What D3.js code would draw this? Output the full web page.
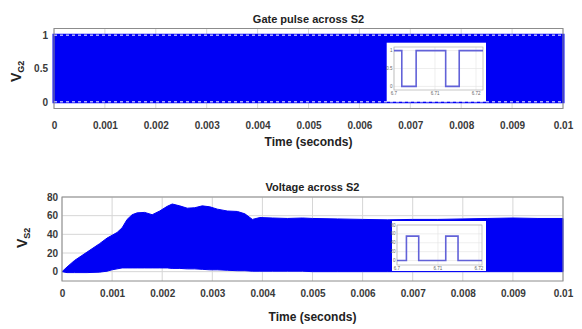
<!DOCTYPE html>
<html>
<head>
<meta charset="utf-8">
<script src="https://cdn.jsdelivr.net/npm/d3@7"></script>
<style>
  body { margin: 0; background: #fff; }
  svg text { font-family: "Liberation Sans", Arial, sans-serif; }
</style>
</head>
<body>
<div id="chart"></div>
<script>
// ---- data ----
const timeTicks = [0, 0.001, 0.002, 0.003, 0.004, 0.005, 0.006, 0.007, 0.008, 0.009, 0.01];
const gateTicks = [0, 0.5, 1];
const voltTicks = [0, 20, 40, 60, 80];

// gate pulse envelope (switching too fast to resolve, band 0..1)
const gateTime = [0, 0.01];
const gateLow = [0, 0];
const gateHigh = [1, 1];

// voltage across S2 envelope
const voltTime = [0, 0.0001, 0.00025, 0.0005, 0.00075, 0.0009, 0.001, 0.0011, 0.0012, 0.0013,
  0.0014, 0.0015, 0.00165, 0.0018, 0.00195, 0.0021, 0.0022, 0.00235, 0.0025, 0.00265,
  0.0028, 0.00295, 0.0031, 0.0033, 0.0035, 0.00365, 0.0038, 0.00395, 0.0042, 0.0045,
  0.0048, 0.005, 0.0055, 0.006, 0.0065, 0.007, 0.0075, 0.008, 0.0085, 0.009, 0.0095, 0.01];
const voltHigh = [0, 5, 12, 21, 30, 36, 39, 42, 47, 56,
  61, 63, 63.5, 61, 65, 70, 72.5, 70.5, 68, 68.5,
  70.5, 69.5, 67, 65, 64.5, 62, 56, 58, 57.5, 57,
  57.5, 57, 56.5, 56, 55.5, 56, 56, 56.5, 57, 57.5, 57, 57];
const voltLow = [0, -1, -1, -1, -0.5, 0.5, 2, 3, 4, 4,
  4, 4, 4, 4, 4, 4, 3.5, 3.5, 3, 3,
  2.5, 2, 2, 1.5, 1, 1, 0.5, 0.5, 0.5, 0.5,
  0.5, 0, 0, 0, 0, 0, 0, 0, 0, 0, 0, 0];

// zoomed insets (time in ms)
const zoomTicks = [6.7, 6.71, 6.72];
const gateZoomTime = [6.7, 6.7019, 6.7054, 6.7126, 6.7159, 6.7217];
const gateZoomLevel = [1, 0, 1, 0, 1, 1];
const voltZoomTime = [6.7, 6.7023, 6.7053, 6.7119, 6.7149, 6.72075];
const voltZoomLevel = [0, 55, 0, 55, 0, 0];

const blue = '#0000f5';
const gridColor = '#d6d6d6';
const boxColor = '#8c8c8c';
const tickColor = '#3a3a3a';

var svg = d3.select('#chart')
  .append('svg')
  .attr('width', 582)
  .attr('height', 329);

function panel(opt) {
  var x = d3.scaleLinear().domain([0, 0.01]).range([opt.left, opt.right]);
  var y = d3.scaleLinear().domain(opt.yDomain).range([opt.bottom, opt.top]);
  var g = svg.append('g');

  // grid
  g.selectAll('.vgrid').data(timeTicks).enter().append('line')
    .attr('x1', d => x(d)).attr('x2', d => x(d))
    .attr('y1', opt.top).attr('y2', opt.bottom)
    .style('stroke', gridColor);
  g.selectAll('.hgrid').data(opt.yTicks).enter().append('line')
    .attr('x1', opt.left).attr('x2', opt.right)
    .attr('y1', d => y(d)).attr('y2', d => y(d))
    .style('stroke', gridColor);

  // envelope band
  var rows = opt.time.map((t, i) => ({ t: t, lo: opt.low[i], hi: opt.high[i] }));
  var area = d3.area()
    .x(d => x(d.t))
    .y0(d => y(d.lo))
    .y1(d => y(d.hi));
  g.append('path')
    .attr('d', area(rows))
    .style('fill', blue)
    .style('stroke', blue)
    .style('stroke-width', opt.edge);

  if (opt.dashed) {
    opt.dashed.forEach(v => {
      g.append('line')
        .attr('x1', x(0)).attr('x2', x(0.01))
        .attr('y1', y(v)).attr('y2', y(v))
        .style('stroke', '#fff')
        .style('stroke-width', 1)
        .style('stroke-dasharray', '3,3');
    });
  }

  // box
  g.append('rect')
    .attr('x', opt.left).attr('y', opt.top)
    .attr('width', opt.right - opt.left).attr('height', opt.bottom - opt.top)
    .style('fill', 'none').style('stroke', boxColor);

  // axes
  var xAxis = g.append('g')
    .attr('transform', `translate(0,${opt.bottom})`)
    .call(d3.axisBottom(x).tickValues(timeTicks).tickSize(0).tickPadding(opt.xPad)
      .tickFormat(d => String(+d.toFixed(3))));
  var yAxis = g.append('g')
    .attr('transform', `translate(${opt.left},0)`)
    .call(d3.axisLeft(y).tickValues(opt.yTicks).tickSize(0).tickPadding(opt.yPad)
      .tickFormat(d => String(d)));
  [xAxis, yAxis].forEach(a => {
    a.select('.domain').remove();
    a.selectAll('text')
      .style('font-size', '10px')
      .style('font-weight', 'bold')
      .style('fill', tickColor);
  });

  // titles
  var cx = (opt.left + opt.right) / 2;
  g.append('text')
    .attr('x', cx).attr('y', opt.top - 6)
    .attr('text-anchor', 'middle')
    .style('font-size', '11px').style('font-weight', 'bold').style('fill', '#222')
    .text(opt.title);
  g.append('text')
    .attr('x', cx).attr('y', opt.xLabelY)
    .attr('text-anchor', 'middle')
    .style('font-size', '12px').style('font-weight', 'bold').style('fill', '#222')
    .text('Time (seconds)');
  var yl = g.append('text')
    .attr('transform', `translate(${opt.yLabel[0]},${opt.yLabel[1]}) rotate(-90)`)
    .style('font-weight', 'bold').style('fill', '#222');
  yl.append('tspan').style('font-size', '14px').text('V');
  yl.append('tspan').style('font-size', '9px').attr('dy', 3).text(opt.sub);

  return { x: x, y: y };
}

function inset(opt) {
  var g = svg.append('g');
  g.append('rect')
    .attr('x', opt.box[0]).attr('y', opt.box[1])
    .attr('width', opt.box[2] - opt.box[0]).attr('height', opt.box[3] - opt.box[1])
    .style('fill', '#fff');
  var x = d3.scaleLinear().domain(opt.xDomain).range([opt.left, opt.right]);
  var y = d3.scaleLinear().domain(opt.yDomain).range([opt.bottom, opt.top]);

  g.selectAll('.vg').data(zoomTicks).enter().append('line')
    .attr('x1', d => x(d)).attr('x2', d => x(d))
    .attr('y1', opt.top).attr('y2', opt.bottom)
    .style('stroke', '#e2e2e2').style('stroke-width', 0.6);
  g.selectAll('.hg').data(opt.yTicks).enter().append('line')
    .attr('x1', opt.left).attr('x2', opt.right)
    .attr('y1', d => y(d)).attr('y2', d => y(d))
    .style('stroke', '#e2e2e2').style('stroke-width', 0.6);
  g.append('rect')
    .attr('x', opt.left).attr('y', opt.top)
    .attr('width', opt.right - opt.left).attr('height', opt.bottom - opt.top)
    .style('fill', 'none').style('stroke', '#b0b0b0').style('stroke-width', 0.7);

  var pts = opt.time.map((t, i) => [t, opt.level[i]]);
  var line = d3.line()
    .x(d => x(d[0]))
    .y(d => y(d[1]))
    .curve(d3.curveStepAfter);
  g.append('path')
    .attr('d', line(pts))
    .style('fill', 'none')
    .style('stroke', '#6262d8')
    .style('stroke-width', 1.6);

  g.selectAll('.xl').data(zoomTicks).enter().append('text')
    .attr('x', d => x(d)).attr('y', opt.bottom + 5)
    .attr('text-anchor', 'middle')
    .style('font-size', '4.5px').style('fill', '#666')
    .text(d => d);
  g.selectAll('.yl').data(opt.yTicks).enter().append('text')
    .attr('x', opt.left - 1.5).attr('y', d => y(d) + 1.5)
    .attr('text-anchor', 'end')
    .style('font-size', '4.5px').style('fill', '#666')
    .text(d => d);
}

panel({
  left: 54, right: 563, top: 28.5, bottom: 108.5,
  yDomain: [-0.1, 1.1], yTicks: gateTicks,
  time: gateTime, low: gateLow, high: gateHigh, edge: 3,
  dashed: [0, 1],
  xPad: 13, yPad: 6, xLabelY: 146,
  title: 'Gate pulse across S2',
  yLabel: [21, 82], sub: 'G2'
});

inset({
  box: [386.7, 42.7, 486, 101.7],
  left: 394, right: 483, top: 47, bottom: 90,
  xDomain: [6.7, 6.7217], yDomain: [-0.1, 1.1], yTicks: gateTicks,
  time: gateZoomTime, level: gateZoomLevel
});

panel({
  left: 62, right: 563, top: 197, bottom: 281,
  yDomain: [-10, 80], yTicks: voltTicks,
  time: voltTime, low: voltLow, high: voltHigh, edge: 1,
  dashed: null,
  xPad: 9, yPad: 4, xLabelY: 321,
  title: 'Voltage across S2',
  yLabel: [27, 248], sub: 'S2'
});

inset({
  box: [392, 221, 486, 271],
  left: 397, right: 482, top: 225, bottom: 265,
  xDomain: [6.7, 6.72075], yDomain: [-10, 80], yTicks: voltTicks,
  time: voltZoomTime, level: voltZoomLevel
});
</script>
</body>
</html>
